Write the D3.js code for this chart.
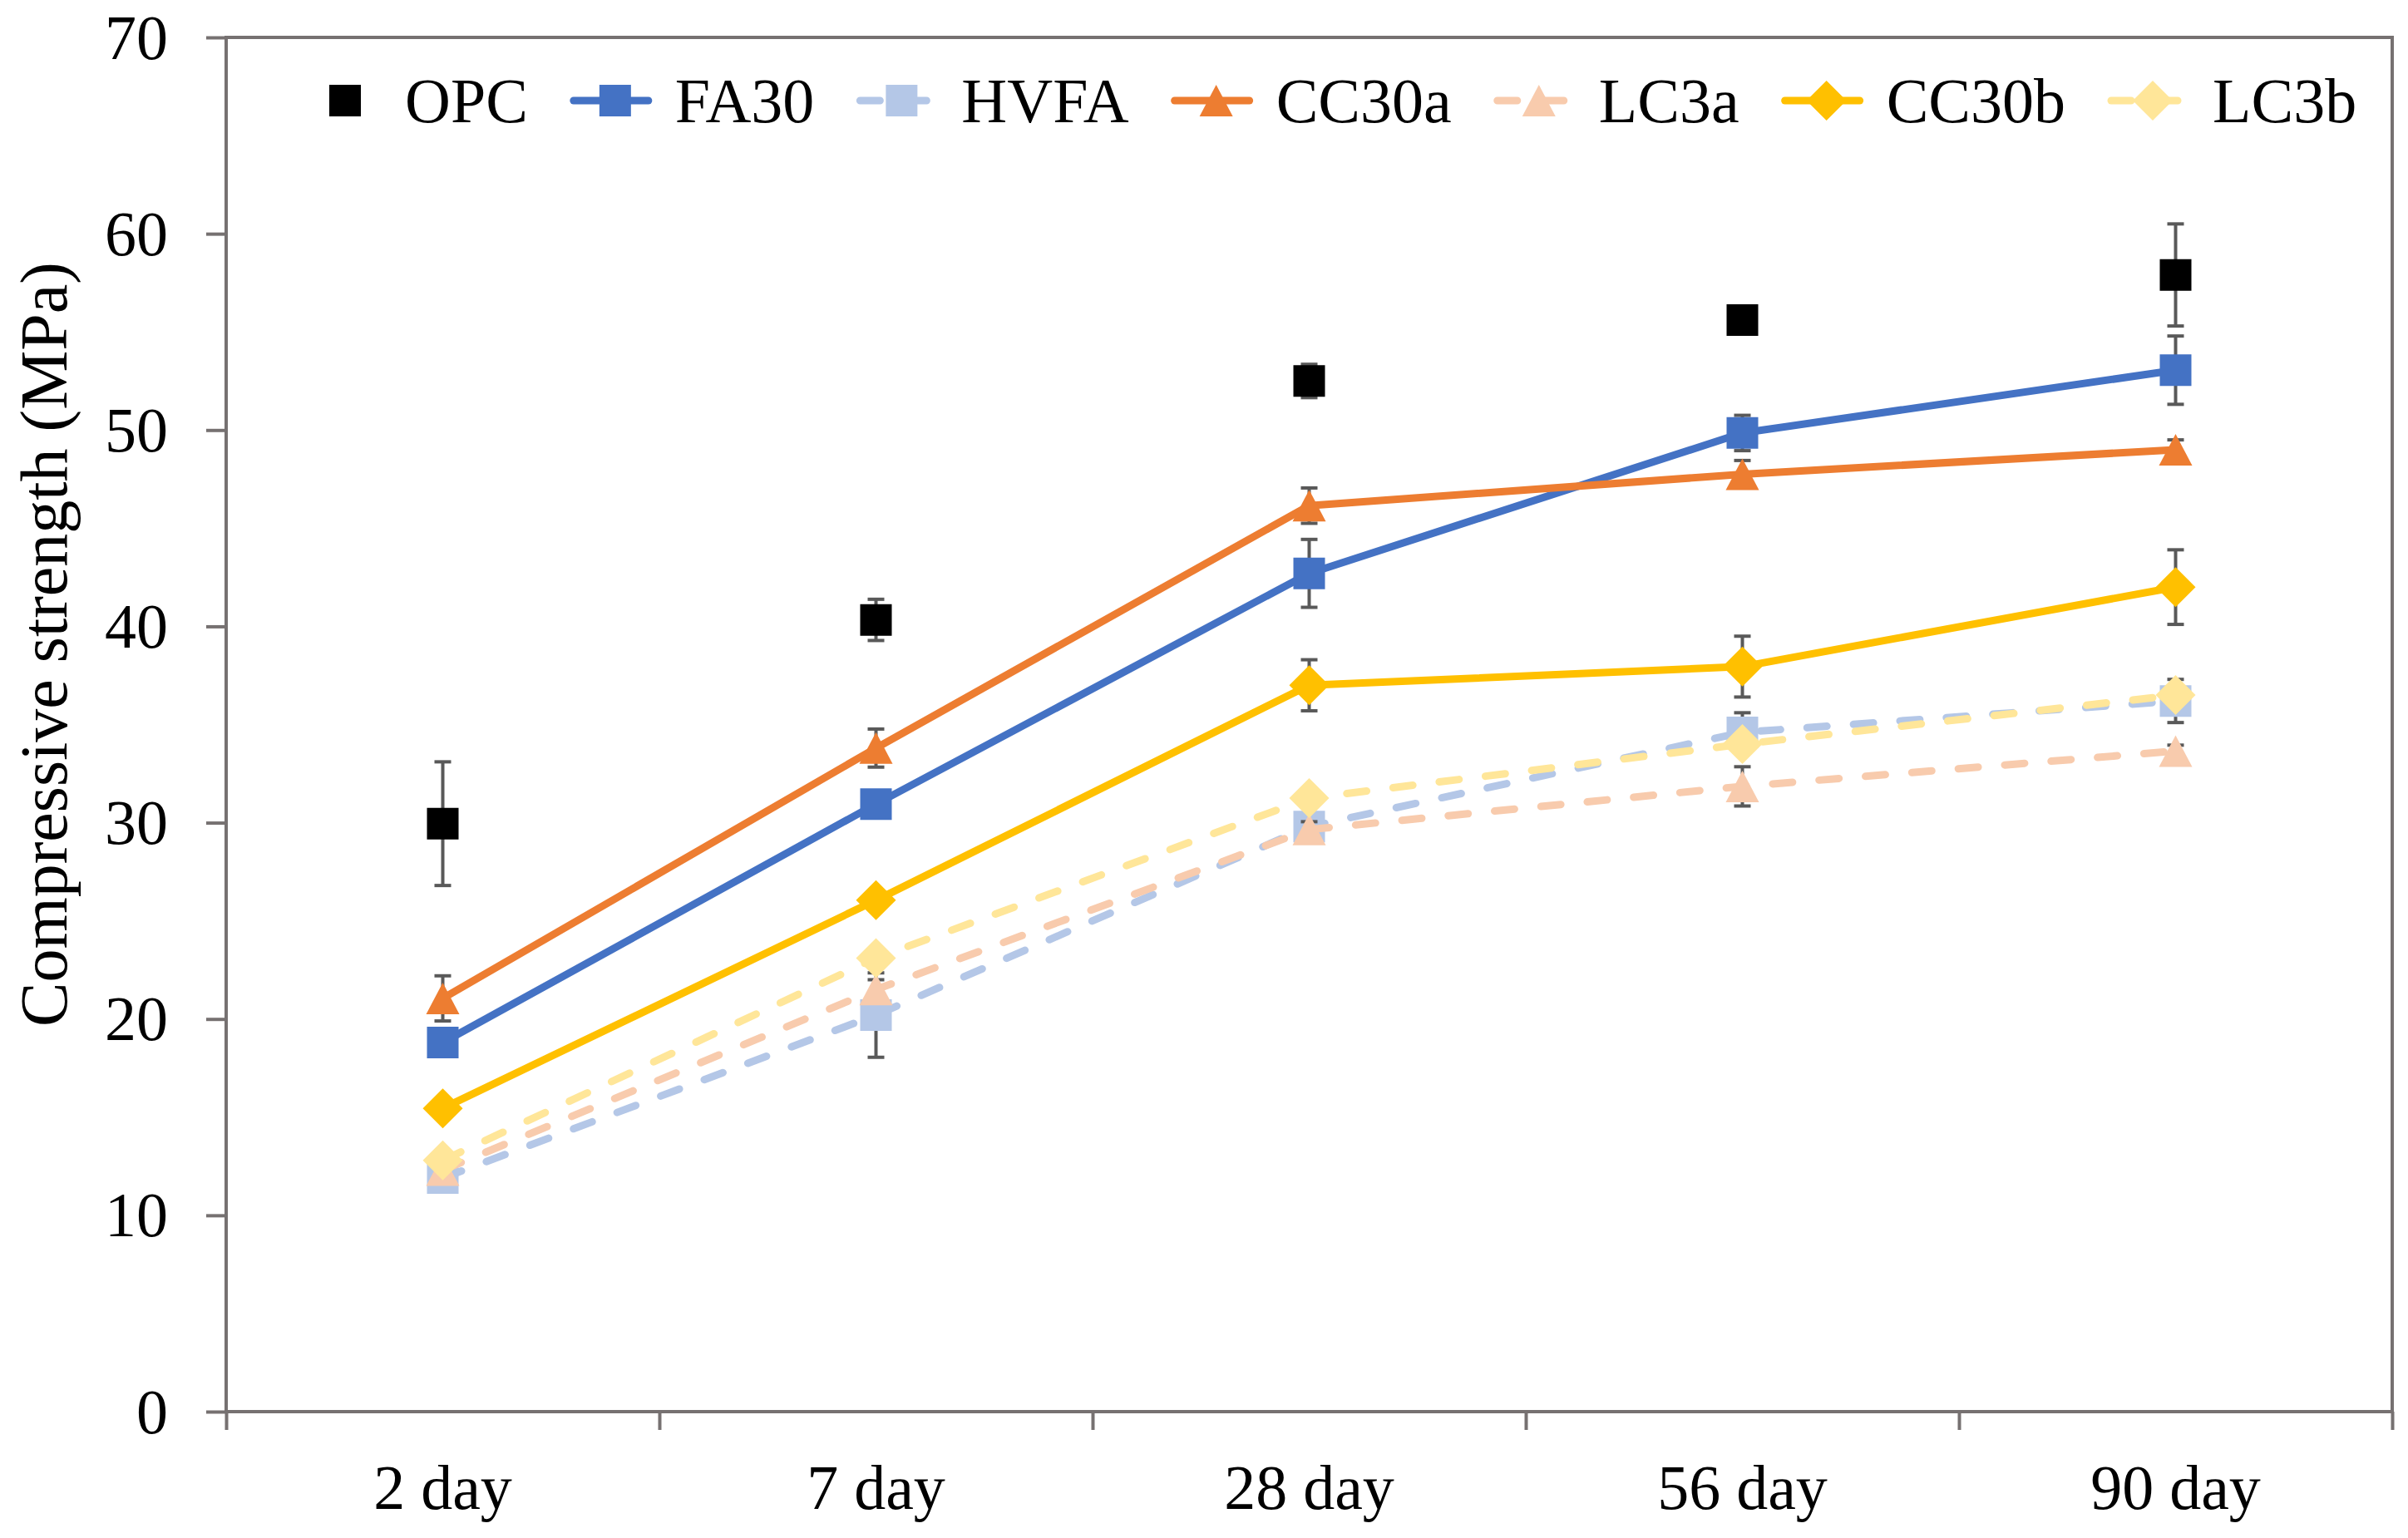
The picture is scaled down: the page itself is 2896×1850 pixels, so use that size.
<!DOCTYPE html>
<html>
<head>
<meta charset="utf-8">
<script src="https://cdnjs.cloudflare.com/ajax/libs/d3/7.8.5/d3.min.js"></script>
<style>
	body {
		padding: 0;
		margin: 0;
		background: #FFF;
	}
	text {
		font-family: "Liberation Serif", "Times New Roman", serif;
		fill: #000;
	}
	.errbar {
		stroke: #595959;
		stroke-width: 4;
		fill: none;
	}
</style>
</head>
<body>
<div id="content"></div>
<script>

// Data
var ages = ['2 day', '7 day', '28 day', '56 day', '90 day'];
var yTicks = [0, 10, 20, 30, 40, 50, 60, 70];

var opc    = [29.95, 40.33, 52.5, 55.6, 57.9];
var opcErr = [3.15, 1.05, 0.85, 0.2, 2.6];
var fa30    = [18.8, 30.95, 42.7, 49.85, 53.05];
var fa30Err = [0.4, 0.4, 1.73, 0.9, 1.74];
var hvfa    = [11.9, 20.2, 29.8, 34.6, 36.2];
var hvfaErr = [0.7, 2.15, 0.5, 1.0, 1.1];
var cc30a    = [21.05, 33.8, 46.15, 47.75, 49.0];
var cc30aErr = [1.15, 0.97, 0.9, 0.7, 0.5];
var lc3a    = [12.3, 21.5, 29.65, 31.85, 33.65];
var lc3aErr = [0.4, 0.5, 0.4, 1.0, 0.3];
var cc30b    = [15.45, 26.05, 37.0, 37.95, 42.0];
var cc30bErr = [0.4, 0.4, 1.3, 1.55, 1.9];
var lc3b    = [12.8, 23.1, 31.25, 34.0, 36.5];
var lc3bErr = [0.4, 0.4, 0.4, 0.4, 0.4];

var series = [
	{name: 'OPC',   vals: opc,   err: opcErr,   color: '#000000', shape: 'square',   line: 'none'},
	{name: 'FA30',  vals: fa30,  err: fa30Err,  color: '#4472C4', shape: 'square',   line: 'solid'},
	{name: 'HVFA',  vals: hvfa,  err: hvfaErr,  color: '#B4C7E7', shape: 'square',   line: 'dash'},
	{name: 'CC30a', vals: cc30a, err: cc30aErr, color: '#ED7D31', shape: 'triangle', line: 'solid'},
	{name: 'LC3a',  vals: lc3a,  err: lc3aErr,  color: '#F8CBAD', shape: 'triangle', line: 'dash'},
	{name: 'CC30b', vals: cc30b, err: cc30bErr, color: '#FFC000', shape: 'diamond',  line: 'solid'},
	{name: 'LC3b',  vals: lc3b,  err: lc3bErr,  color: '#FFE699', shape: 'diamond',  line: 'dash'}
];

// Layout
var W = 2896, H = 1850;
var plotL = 272, plotR = 2877, plotT = 45, plotB = 1698;
var axisColor = '#767171';
var lw = 9;

var svg = d3.select('#content')
	.append('svg')
	.attr('width', W)
	.attr('height', H);

var x = d3.scaleBand().domain(ages).range([plotL, plotR]);
var xi = d3.scaleLinear().domain([0, ages.length]).range([plotL, plotR]);
var y = d3.scaleLinear().domain([0, 70]).range([plotB, plotT]);

// Frame
svg.append('rect')
	.attr('x', plotL)
	.attr('y', plotT)
	.attr('width', plotR - plotL)
	.attr('height', plotB - plotT)
	.attr('fill', 'none')
	.attr('stroke', axisColor)
	.attr('stroke-width', 4);

// Y axis
var yAxis = svg.append('g')
	.attr('transform', 'translate(' + plotL + ',0)')
	.call(d3.axisLeft(y).tickValues(yTicks).tickSize(24).tickPadding(46).tickFormat(d3.format('d')));
yAxis.select('.domain').remove();
yAxis.selectAll('line').attr('stroke', axisColor).attr('stroke-width', 4);
yAxis.selectAll('text')
	.attr('font-size', 76)
	.attr('font-family', '"Liberation Serif", serif')
	.attr('dy', '0.33em');

// X axis: ticks at band edges
var xTickAxis = svg.append('g')
	.attr('transform', 'translate(0,' + plotB + ')')
	.call(d3.axisBottom(xi).ticks(ages.length).tickSize(22).tickFormat(''));
xTickAxis.select('.domain').remove();
xTickAxis.selectAll('line').attr('stroke', axisColor).attr('stroke-width', 4);

// X axis labels at band centres
var xLabelAxis = svg.append('g')
	.attr('transform', 'translate(0,' + plotB + ')')
	.call(d3.axisBottom(x).tickSize(0));
xLabelAxis.select('.domain').remove();
xLabelAxis.selectAll('text')
	.attr('font-size', 76)
	.attr('font-family', '"Liberation Serif", serif')
	.attr('y', 117)
	.attr('dy', 0);

// Y axis title
svg.append('text')
	.attr('transform', 'translate(80,775) rotate(-90)')
	.attr('text-anchor', 'middle')
	.attr('font-size', 80)
	.text('Compressive strength (MPa)');

// Marker shapes
function markerPath(shape) {
	if (shape === 'diamond') {
		var r = 24;
		return 'M0,' + (-r) + 'L' + r + ',0L0,' + r + 'L' + (-r) + ',0Z';
	}
	if (shape === 'triangle') {
		var h = 38, w = 40;
		return 'M0,' + (-h / 2) + 'L' + (w / 2) + ',' + (h / 2) + 'L' + (-w / 2) + ',' + (h / 2) + 'Z';
	}
	return d3.symbol().type(d3.symbolSquare).size(38 * 38)();
}

var lineGen = d3.line()
	.x(function(d, i) { return x(ages[i]) + x.bandwidth() / 2; })
	.y(function(d) { return y(d); });

var cap = 10;

series.forEach(function(s) {
	var g = svg.append('g');
	if (s.line !== 'none') {
		g.append('path')
			.attr('d', lineGen(s.vals))
			.attr('fill', 'none')
			.attr('stroke', s.color)
			.attr('stroke-width', lw)
			.attr('stroke-linecap', 'round')
			.attr('stroke-linejoin', 'round')
			.attr('stroke-dasharray', s.line === 'dash' ? '24,32' : null);
	}
	// error bars
	s.vals.forEach(function(v, i) {
		var cx = x(ages[i]) + x.bandwidth() / 2;
		var y1 = y(v + s.err[i]), y2 = y(v - s.err[i]);
		g.append('line').attr('class', 'errbar')
			.attr('x1', cx).attr('x2', cx).attr('y1', y1).attr('y2', y2);
		g.append('line').attr('class', 'errbar')
			.attr('x1', cx - cap).attr('x2', cx + cap).attr('y1', y1).attr('y2', y1);
		g.append('line').attr('class', 'errbar')
			.attr('x1', cx - cap).attr('x2', cx + cap).attr('y1', y2).attr('y2', y2);
	});
	// markers
	g.selectAll('path.mk')
		.data(s.vals)
		.enter()
		.append('path')
		.attr('class', 'mk')
		.attr('d', markerPath(s.shape))
		.attr('transform', function(d, i) {
			return 'translate(' + (x(ages[i]) + x.bandwidth() / 2) + ',' + y(d) + ')';
		})
		.attr('fill', s.color);
});

// Legend
var legY = 121;
var lx = 415;
series.forEach(function(s) {
	var g = svg.append('g');
	if (s.line !== 'none') {
		g.append('line')
			.attr('x1', lx - 50).attr('x2', lx + 40)
			.attr('y1', legY).attr('y2', legY)
			.attr('stroke', s.color)
			.attr('stroke-width', lw)
			.attr('stroke-linecap', 'round')
			.attr('stroke-dasharray', s.line === 'dash' ? '24,32' : null);
	}
	g.append('path')
		.attr('d', markerPath(s.shape))
		.attr('transform', 'translate(' + lx + ',' + legY + ')')
		.attr('fill', s.color);
	var t = g.append('text')
		.attr('x', lx + 72)
		.attr('y', legY + 26)
		.attr('font-size', 76)
		.text(s.name);
	lx = lx + 72 + t.node().getComputedTextLength() + 105;
});

</script>
</body>
</html>
